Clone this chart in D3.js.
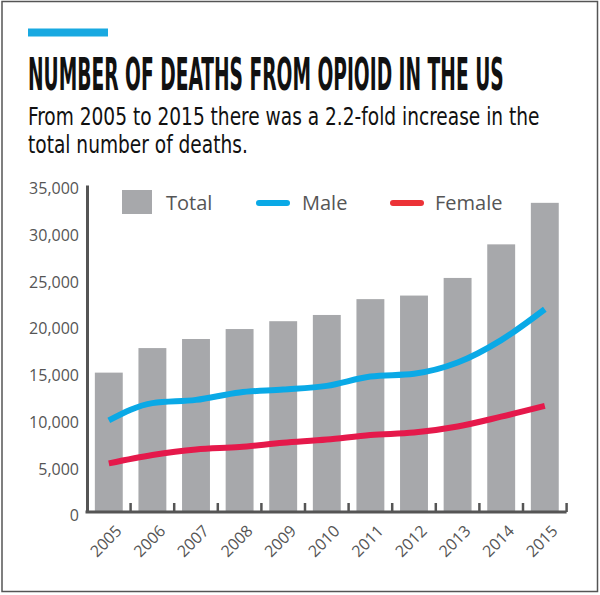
<!DOCTYPE html>
<html>
<head>
<meta charset="utf-8">
<script src="https://cdn.jsdelivr.net/npm/d3@7"></script>
<style>
  html, body { margin: 0; padding: 0; background: #fff; }
  svg { display: block; }
</style>
</head>
<body>
<svg id="chart" width="600" height="595"></svg>
<script>
const years = ["2005","2006","2007","2008","2009","2010","2011","2012","2013","2014","2015"];
const totalDeaths = [14918, 17545, 18516, 19582, 20422, 21089, 22784, 23166, 25052, 28647, 33091];
const maleDeaths = [9800, 11650, 12000, 12800, 13100, 13500, 14500, 14800, 16000, 18400, 21700];
const femaleDeaths = [5200, 6100, 6700, 6950, 7400, 7750, 8250, 8500, 9150, 10200, 11350];
const yTicks = [0, 5000, 10000, 15000, 20000, 25000, 30000, 35000];
const titleText = "NUMBER OF DEATHS FROM OPIOID IN THE US";
const subtitleLines = ["From 2005 to 2015 there was a 2.2-fold increase in the", "total number of deaths."];
const legendItems = [
  {label: "Total", type: "rect"},
  {label: "Male", type: "line"},
  {label: "Female", type: "line"}
];

const svg = d3.select("#chart");
const condensed = "'Liberation Sans Narrow', 'Arial Narrow', 'DejaVu Sans Condensed', sans-serif";
const sans = "'Open Sans', 'Noto Sans', sans-serif";

// border
svg.append("rect").attr("x", 2).attr("y", 1.5).attr("width", 595.5).attr("height", 590)
  .attr("fill", "none").attr("stroke", "#555").attr("stroke-width", 1.5);

// accent bar
svg.append("rect").attr("x", 28).attr("y", 28.5).attr("width", 80).attr("height", 8).attr("fill", "#19a9e1");

// title (horizontally compressed to match the condensed display face)
const titleG = svg.append("g");
const title = titleG.append("text").attr("x", 0).attr("y", 0)
  .attr("font-family", condensed).attr("font-weight", "bold").attr("font-size", 44)
  .attr("fill", "#111").text(titleText);
const tW = title.node().getComputedTextLength();
titleG.attr("transform", `translate(28,90) scale(${476 / tW},1)`);

// subtitle
const subG = svg.append("g");
const l1 = subG.append("text").attr("x", 0).attr("y", 0)
  .attr("font-family", condensed).attr("font-size", 24).attr("fill", "#111").text(subtitleLines[0]);
const l2 = subG.append("text").attr("x", 0).attr("y", 28)
  .attr("font-family", condensed).attr("font-size", 24).attr("fill", "#111").text(subtitleLines[1]);
const sW = l1.node().getComputedTextLength();
subG.attr("transform", `translate(28,125) scale(${512 / sW},1)`);

// scales
const x = d3.scaleBand().domain(years).range([87, 566.6]).paddingInner(0.36).paddingOuter(0.18);
const y = d3.scaleLinear().domain([0, 35000]).range([512, 185]);

// bars
svg.append("g").selectAll("rect").data(years).join("rect")
  .attr("x", d => x(d)).attr("width", x.bandwidth())
  .attr("y", (d, i) => y(totalDeaths[i]))
  .attr("height", (d, i) => y(0) - y(totalDeaths[i]))
  .attr("fill", "#a7a8ab");

// lines
const line = d3.line().x((d, i) => x(years[i]) + x.bandwidth() / 2).y(d => y(d)).curve(d3.curveMonotoneX);
svg.append("path").datum(maleDeaths).attr("d", line).attr("fill", "none")
  .attr("stroke", "#0aa9e6").attr("stroke-width", 6);
svg.append("path").datum(femaleDeaths).attr("d", line).attr("fill", "none")
  .attr("stroke", "#e5194b").attr("stroke-width", 6);

// y axis
const yAxis = svg.append("g").attr("transform", "translate(87,0)")
  .call(d3.axisLeft(y).tickValues(yTicks).tickSize(0).tickPadding(8).tickFormat(d3.format(",")));
yAxis.select(".domain").attr("stroke", "#555").attr("stroke-width", 3);
yAxis.selectAll("text").attr("font-family", sans).attr("font-size", 16).attr("fill", "#555").attr("dy", "0.55em");

// x axis
const xAxis = svg.append("g");
xAxis.append("line").attr("x1", x.range()[0] - 1.5).attr("x2", x.range()[1]).attr("y1", y(0)).attr("y2", y(0))
  .attr("stroke", "#555").attr("stroke-width", 3);
xAxis.selectAll("line.tick").data(years).join("line").attr("class", "tick")
  .attr("x1", d => x(d) + x.bandwidth() + x.step() * x.paddingInner() / 2)
  .attr("x2", d => x(d) + x.bandwidth() + x.step() * x.paddingInner() / 2)
  .attr("y1", y(0)).attr("y2", y(0) - 9)
  .attr("stroke", "#555").attr("stroke-width", 2.5);
xAxis.selectAll("text").data(years).join("text")
  .attr("transform", d => `translate(${x(d) + x.bandwidth() / 2 + 14},532) rotate(-45)`)
  .attr("text-anchor", "end")
  .attr("font-family", sans).attr("font-size", 16).attr("fill", "#555")
  .text(d => d);

// legend
const lg = svg.append("g").attr("font-family", sans).attr("font-size", 20).attr("fill", "#555");
lg.append("rect").attr("x", 122).attr("y", 190).attr("width", 30).attr("height", 24).attr("fill", "#a7a8ab");
lg.append("text").attr("x", 166).attr("y", 210).text(legendItems[0].label);
lg.append("line").attr("x1", 259).attr("x2", 287).attr("y1", 203).attr("y2", 203)
  .attr("stroke", "#0aa9e6").attr("stroke-width", 6).attr("stroke-linecap", "round");
lg.append("text").attr("x", 302).attr("y", 210).text(legendItems[1].label);
lg.append("line").attr("x1", 393).attr("x2", 421).attr("y1", 203).attr("y2", 203)
  .attr("stroke", "#ec3237").attr("stroke-width", 6).attr("stroke-linecap", "round");
lg.append("text").attr("x", 435).attr("y", 210).text(legendItems[2].label);
</script>
</body>
</html>
